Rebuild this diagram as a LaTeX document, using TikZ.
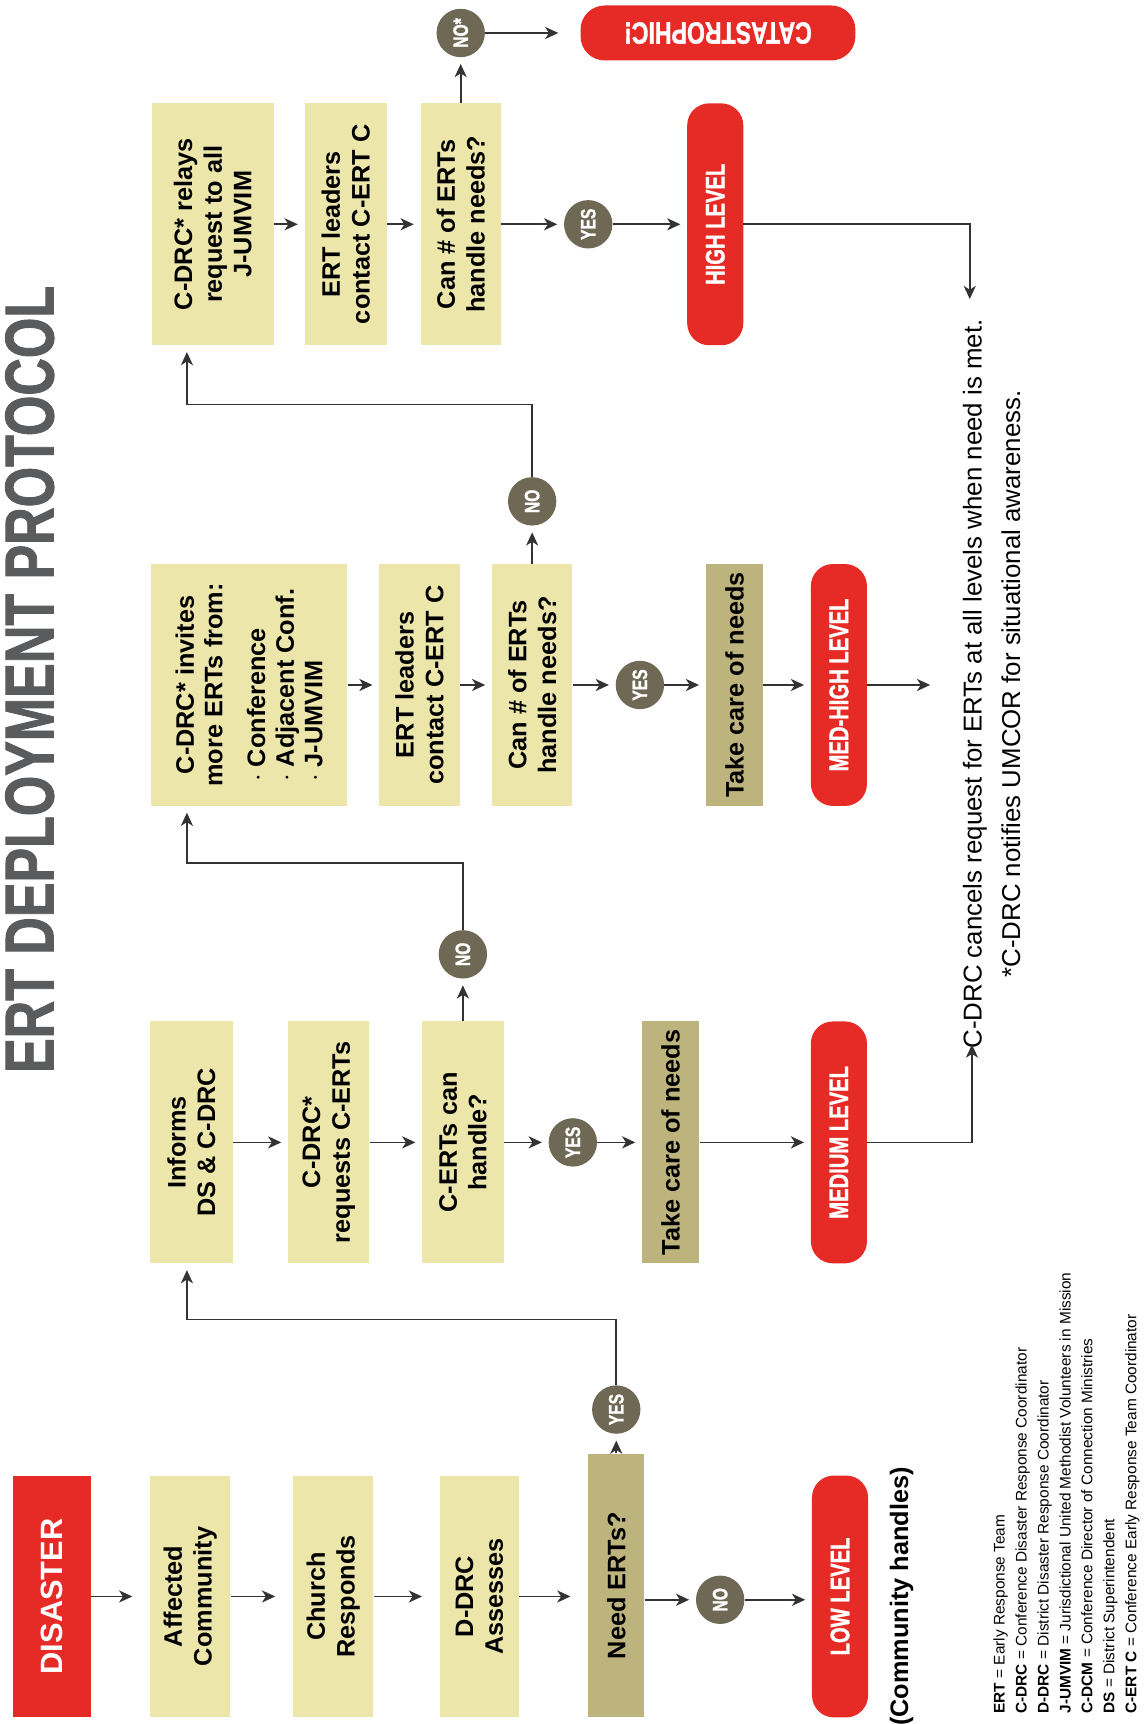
\documentclass[tikz,border=0pt]{standalone}
\usepackage{fontspec}
\setmainfont{Liberation Sans}
\newfontfamily\condfont{Liberation Sans Bold}[FakeStretch=0.75, FakeBold=1.2]
\usetikzlibrary{arrows.meta}
\definecolor{boxyellow}{HTML}{ECE6AA}
\definecolor{boxtan}{HTML}{BDB37D}
\definecolor{levelred}{HTML}{E62A25}
\definecolor{answergray}{HTML}{6E6855}
\definecolor{linegray}{HTML}{333333}
\definecolor{titlegray}{HTML}{5A5B5D}
\newcommand{\bulletline}[1]{\makebox[176pt][l]{$\cdot$ #1}}
\begin{document}
\begin{tikzpicture}
        [
          x=1pt, y=-1pt,
          infobox/.style={rotate=90, fill=boxyellow, align=center, inner sep=0pt,
            minimum width=220pt, font=\bfseries\fontsize{23}{27}\selectfont},
          tanbox/.style={infobox, fill=boxtan},
          levelbox/.style={rotate=90, fill=levelred, rounded corners=20pt, text=white,
            minimum width=220pt, minimum height=51pt, inner sep=0pt,
            font=\condfont\fontsize{24.5}{24.5}\selectfont},
          answer/.style={circle, rotate=90, fill=answergray, text=white,
            minimum size=44pt, inner sep=0pt, font=\condfont\fontsize{19}{19}\selectfont},
          arr/.style={draw=linegray, line width=1.5pt, shorten >=6pt,
            -{Stealth[length=12pt,width=11pt,inset=3.5pt]}}
        ]
        \useasboundingbox [fill=white] (0,0) rectangle (1042,1568);
        % title
        \node [rotate=90, text=titlegray, font=\condfont\fontsize{63}{63}\selectfont] (title) at (27,618) {ERT DEPLOYMENT PROTOCOL};
        % low level
        \node [levelbox, rounded corners=0pt, minimum height=71pt,
          font=\bfseries\fontsize{28}{28}\selectfont] (disaster) at (47,1452) {DISASTER};
        \node [infobox, minimum height=73pt] (affected) at (173,1452) {Affected\\Community};
        \node [infobox, minimum height=73pt] (church) at (303,1452) {Church\\Responds};
        \node [infobox, minimum height=72pt] (ddrc) at (436,1452) {D-DRC\\Assesses};
        \node [tanbox, minimum width=240pt, minimum height=51pt] (need) at (560.5,1442) {Need ERTs?};
        \node [answer] (yes1) at (560.5,1282) {YES};
        \node [answer] (no1) at (655,1455) {NO};
        \node [levelbox] (low) at (764,1452) {LOW LEVEL};
        \node [rotate=90, font=\bfseries\fontsize{23}{27}\selectfont] (handles) at (820,1452) {(Community handles)};
        % medium level
        \node [infobox, minimum height=75pt] (informs) at (174,1039) {Informs\\DS \& C-DRC};
        \node [infobox, minimum height=74pt] (requests) at (299,1039) {C-DRC*\\requests C-ERTs};
        \node [infobox, minimum height=74pt] (certs) at (421,1039) {C-ERTs can\\handle?};
        \node [answer] (no2) at (421,868) {NO};
        \node [answer] (yes2) at (521,1039) {YES};
        \node [tanbox, minimum height=52pt] (take1) at (610,1039) {Take care of needs};
        \node [levelbox] (medium) at (763,1039) {MEDIUM LEVEL};
        % med-high level
        \node [infobox, minimum height=179pt, font=\bfseries\fontsize{23}{26}\selectfont] (invites) at (226.5,623)
          {C-DRC* invites\\more ERTs from:\\[13pt]\bulletline{Conference}\\\bulletline{Adjacent Conf.}\\\bulletline{J-UMVIM}};
        \node [infobox, minimum height=73pt] (leaders1) at (381.5,623) {ERT leaders\\contact C-ERT C};
        \node [infobox, minimum height=73pt] (can1) at (484,623) {Can \# of ERTs\\handle needs?};
        \node [answer] (no3) at (484,456) {NO};
        \node [answer] (yes3) at (582,623) {YES};
        \node [tanbox, minimum height=52pt] (take2) at (668,623) {Take care of needs};
        \node [levelbox] (medhigh) at (763,623) {MED-HIGH LEVEL};
        % high level
        \node [infobox, minimum height=111pt] (relays) at (193.5,204) {C-DRC* relays\\request to all\\J-UMVIM};
        \node [infobox, minimum height=75pt] (leaders2) at (314.5,204) {ERT leaders\\contact C-ERT C};
        \node [infobox, minimum height=73pt] (can2) at (419,204) {Can \# of ERTs\\handle needs?};
        \node [answer] (no4) at (419,30) {NO*};
        \node [answer] (yes4) at (535,204) {YES};
        \node [levelbox] (high) at (650.5,204) {HIGH LEVEL};
        \node [levelbox, minimum width=250pt, minimum height=50pt, rounded corners=22pt,
          font=\condfont\fontsize{28}{28}\selectfont, rotate=90] (cata) at (653,30) {CATASTROPHIC!};
        % notes
        \node [rotate=90, align=center, font=\fontsize{23.5}{35}\selectfont] (note) at (902,622)
          {C-DRC cancels request for ERTs at all levels when need is met.\\{*}C-DRC notifies UMCOR for situational awareness.};
        \node [rotate=90, anchor=west, align=left, font=\fontsize{14}{20}\selectfont] (legend) at (970,1562)
          {\textbf{ERT} = Early Response Team\\
           \textbf{C-DRC} = Conference Disaster Response Coordinator\\
           \textbf{D-DRC} = District Disaster Response Coordinator\\
           \textbf{J-UMVIM} = Jurisdictional United Methodist Volunteers in Mission\\
           \textbf{C-DCM} = Conference Director of Connection Ministries\\
           \textbf{DS} = District Superintendent\\
           \textbf{C-ERT C} = Conference Early Response Team Coordinator};
        \coordinate (notemed) at (884,950);
        \coordinate (notemh) at (846,623);
        \coordinate (notehigh) at (882,272);
        % arrows
        \foreach \a/\b in {disaster/affected,affected/church,church/ddrc} {
            \draw [arr, shorten >=16pt] (\a) -- (\b);
        }
        \draw [arr, shorten >=16pt] (ddrc) -- (ddrc -| need.north);
        \foreach \a/\b in {need/yes1,informs/requests,requests/certs,certs/no2,certs/yes2,yes2/take1,
            take1/medium,invites/leaders1,leaders1/can1,can1/no3,can1/yes3,yes3/take2,take2/medhigh,
            relays/leaders2,leaders2/can2,can2/no4,can2/yes4,yes4/high} {
            \draw [arr] (\a) -- (\b);
        }
        \draw [arr] (need.south |- no1) -- (no1);
        \draw [arr] (no1) -- (no1 -| low.north);
        \draw [arr, shorten >=20pt] (no4) -- (cata);
        \draw [arr] (yes1) -- ++(0,-82) -| ([xshift=-4pt]informs.west);
        \draw [arr] (no2) -- ++(0,-83) -| ([xshift=-56.5pt]invites.west);
        \draw [arr] (no3) -- ++(0,-88) -| ([xshift=-23.5pt]relays.west);
        \draw [arr, shorten >=0pt] (medium) -| (notemed);
        \draw [arr, shorten >=0pt] (medhigh) -- (notemh);
        \draw [arr, shorten >=0pt] (high) -| (notehigh);
      \end{tikzpicture}
\end{document}
